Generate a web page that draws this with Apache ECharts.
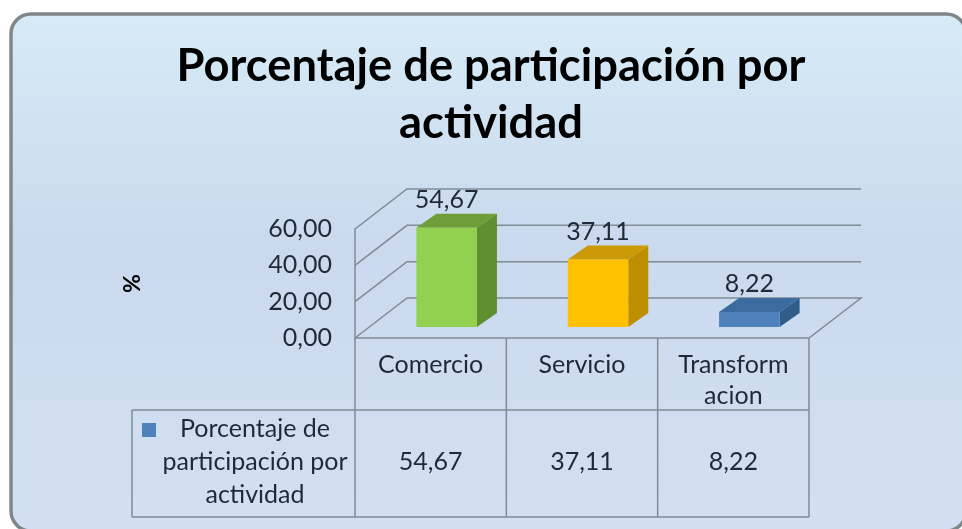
<!DOCTYPE html>
<html>
<head>
<meta charset="utf-8">
<title>Porcentaje de participación por actividad</title>
<script src="https://cdn.jsdelivr.net/npm/echarts@6/dist/echarts.min.js"></script>
<style>
  html, body { margin: 0; padding: 0; background: #fff; }
  #chart { width: 962px; height: 529px; }
</style>
</head>
<body>
<div id="chart"></div>
<script>
  const categories = ['Comercio', 'Servicio', 'Transform\nacion'];
  const values = [54.67, 37.11, 8.22];
  const yTicks = [0, 20, 40, 60];
  const seriesName = 'Porcentaje de\nparticipación por\nactividad';
  const titleText = 'Porcentaje de participación por\nactividad';

  const barFaces = [
    { front: '#92d050', side: '#5f8f30', top: '#6f9e38' },
    { front: '#ffc000', side: '#bd8f00', top: '#cc9a06' },
    { front: '#4f81bd', side: '#2f5d8a', top: '#3b6b9f' }
  ];

  const fontName = 'Lato';
  const textColor = '#1f2937';
  const lineColor = '#7f8c96';
  const gridBox = { left: 355, top: 229, width: 454, height: 109 };
  const wallDx = 52, wallDy = -40;   // depth of the floor
  const barDx = 16, barDy = -11;     // where the bar stands on the floor
  const barDepthX = 20, barDepthY = -14;

  function fmt(v) {
    return v.toFixed(2).replace('.', ',');
  }

  function poly(points, fill) {
    return { type: 'polygon', shape: { points: points }, style: { fill: fill } };
  }

  function renderWall(params, api) {
    const cs = params.coordSys;
    const y = api.coord([0, api.value(0)])[1];
    const x0 = cs.x, x1 = cs.x + cs.width;
    const pts = [[x0, y], [x0 + wallDx, y + wallDy], [x1 + wallDx, y + wallDy]];
    if (api.value(0) === 0) pts.push([x1, y], [x0, y]);
    return {
      type: 'polyline',
      shape: { points: pts },
      style: { fill: null, stroke: lineColor, lineWidth: 1.5 }
    };
  }

  function renderBar(params, api) {
    const i = api.value(0);
    const top = api.coord([i, api.value(1)]);
    const base = api.coord([i, 0]);
    const w = api.size([1, 0])[0] * 0.4;
    const l = top[0] - w / 2 + barDx, r = l + w;
    const t = top[1] + barDy, b = base[1] + barDy;
    const c = barFaces[i];
    return {
      type: 'group',
      children: [
        poly([[r, t], [r + barDepthX, t + barDepthY], [r + barDepthX, b + barDepthY], [r, b]], c.side),
        poly([[l, t], [l + barDepthX, t + barDepthY], [r + barDepthX, t + barDepthY], [r, t]], c.top),
        {
          type: 'rect',
          shape: { x: l, y: t, width: w, height: b - t },
          style: { fill: c.front }
        },
        {
          type: 'text',
          style: {
            x: (l + r) / 2, y: t + barDepthY - 14,
            text: fmt(api.value(1)),
            fill: textColor, font: '25px ' + fontName,
            align: 'center', verticalAlign: 'middle'
          }
        }
      ]
    };
  }

  function tableLine(x1, y1, x2, y2) {
    return {
      type: 'line',
      shape: { x1: x1, y1: y1, x2: x2, y2: y2 },
      style: { stroke: lineColor, lineWidth: 1.5 },
      z: 1
    };
  }

  function tableText(x, y, text) {
    return {
      type: 'text',
      z: 1,
      style: {
        x: x, y: y, text: text,
        fill: textColor, font: '25px ' + fontName,
        lineHeight: 33,
        align: 'center', verticalAlign: 'middle'
      }
    };
  }

  const band = gridBox.width / categories.length;
  const rowTop = gridBox.top + gridBox.height, rowMid = 410, rowBottom = 517, keyLeft = 132;
  const tableParts = [
    tableLine(keyLeft, rowMid, gridBox.left + gridBox.width, rowMid),
    tableLine(keyLeft, rowBottom, gridBox.left + gridBox.width, rowBottom),
    tableLine(keyLeft, rowMid, keyLeft, rowBottom),
    {
      type: 'rect', z: 1,
      shape: { x: 142, y: 423, width: 14, height: 14 },
      style: { fill: '#4f81bd' }
    },
    tableText(255, 462, seriesName)
  ];
  for (let i = 0; i <= categories.length; i++) {
    const x = gridBox.left + band * i;
    tableParts.push(tableLine(x, rowTop, x, rowBottom));
  }
  values.forEach(function (v, i) {
    tableParts.push(tableText(gridBox.left + band * (i + 0.5), 462, fmt(v)));
  });

  const chart = echarts.init(document.getElementById('chart'));
  chart.setOption({
    animation: false,
    title: {
      text: titleText,
      left: 486,
      top: 33,
      textAlign: 'center',
      textStyle: {
        fontFamily: fontName, fontWeight: 'bold', fontSize: 45.3,
        lineHeight: 57, color: '#000'
      }
    },
    grid: gridBox,
    xAxis: {
      type: 'category',
      data: categories,
      axisLine: { show: false },
      axisTick: { show: false },
      axisLabel: {
        margin: 11, color: textColor, fontFamily: fontName,
        fontSize: 25, lineHeight: 31, interval: 0
      }
    },
    yAxis: {
      type: 'value',
      min: 0,
      max: 60,
      interval: 20,
      name: '%',
      nameLocation: 'middle',
      nameGap: 211,
      nameRotate: 90,
      nameTextStyle: { color: '#000', fontFamily: fontName, fontSize: 23, fontWeight: 'bold' },
      axisLine: { show: true, lineStyle: { color: lineColor, width: 1.5 } },
      axisTick: { show: false },
      splitLine: { show: false },
      axisLabel: {
        margin: 23, color: textColor, fontFamily: fontName, fontSize: 25,
        formatter: function (v) { return fmt(v); }
      }
    },
    graphic: [
      {
        type: 'rect',
        z: -10,
        shape: { x: 11, y: 14, width: 955, height: 517, r: 20 },
        style: {
          fill: new echarts.graphic.LinearGradient(0, 0, 0, 1, [
            { offset: 0, color: '#d7ebf6' },
            { offset: 0.45, color: '#cad9ee' },
            { offset: 1, color: '#d3e0f3' }
          ]),
          stroke: '#80878b',
          lineWidth: 3.5
        }
      }
    ].concat(tableParts),
    series: [
      {
        name: 'paredes',
        type: 'custom',
        renderItem: renderWall,
        data: yTicks.map(function (t) { return [t]; }),
        encode: { y: 0 },
        clip: false,
        silent: true,
        z: 2
      },
      {
        name: 'Porcentaje de participación por actividad',
        type: 'custom',
        renderItem: renderBar,
        data: values.map(function (v, i) { return [i, v]; }),
        encode: { x: 0, y: 1 },
        clip: false,
        z: 3
      }
    ]
  });
</script>
</body>
</html>
